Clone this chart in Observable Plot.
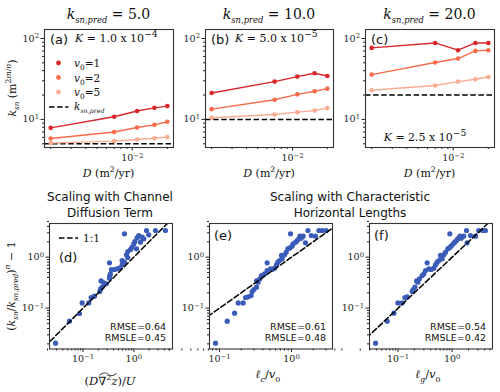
<!DOCTYPE html>
<html><head><meta charset="utf-8">
<script src="https://cdn.jsdelivr.net/npm/d3@7"></script>
<script src="https://cdn.jsdelivr.net/npm/@observablehq/plot@0.6"></script>
<style>
body{margin:0;background:#fff;}
#fig{position:relative;width:500px;height:392px;overflow:hidden;background:#fff;font-family:"DejaVu Serif",serif;color:#111;}
.abs{position:absolute;white-space:nowrap;line-height:1;}
.sans{font-family:"DejaVu Sans",sans-serif;}
.serif{font-family:"DejaVu Serif",serif;}
sub,sup{line-height:0;}
</style></head><body><div id="fig"></div>
<script>
// ---------------- data ----------------
const D = [0.002, 0.007, 0.011, 0.0155, 0.02];
const v0Values = [1, 2, 5];
const kPred = [5.0, 10.0, 20.0];
const kLabels = ["1.0 x 10<sup>−4</sup>", "5.0 x 10<sup>−5</sup>", "2.5 x 10<sup>−5</sup>"];
const panelLetters = ["(a)", "(b)", "(c)", "(d)", "(e)", "(f)"];

const ksnA_v1 = [7.87, 10.8, 12.7, 13.9, 14.6];
const ksnA_v2 = [5.82, 7.0, 7.96, 8.57, 9.36];
const ksnA_v5 = [5.1, 5.4, 5.65, 5.85, 6.05];
const ksnB_v1 = [21.2, 29.3, 33.8, 37.2, 34.4];
const ksnB_v2 = [13.4, 17.5, 20.4, 22.3, 24.0];
const ksnB_v5 = [10.5, 11.5, 12.3, 12.9, 13.8];
const ksnC_v1 = [76.4, 88, 71.6, 88, 88];
const ksnC_v2 = [35.8, 50.4, 56.5, 70.2, 71.6];
const ksnC_v5 = [22.9, 26.2, 29.3, 31.3, 33.4];

const dX = [0.0287,0.0542,0.0851,0.0962,0.130,0.1445,0.168,0.214,0.221,0.238,0.227,0.257,0.285,0.332,0.337,0.347,0.332,0.363,0.416,0.47,0.522,0.589,0.589,0.655,0.717,0.762,0.762,0.86,0.927,1.0,1.046,1.13,1.16,1.25,0.655,1.35,1.46,1.57,1.78,1.97,2.67,4.2];
const dY = [0.0206,0.0556,0.0786,0.127,0.127,0.162,0.172,0.212,0.239,0.258,0.343,0.314,0.3,0.387,0.437,0.471,0.774,0.573,0.573,0.59,0.608,0.707,0.86,0.798,1.11,0.985,1.29,1.41,1.57,1.82,2.03,1.46,2.39,2.66,2.87,1.97,2.47,2.29,3.33,2.74,3.33,3.33];

const eX = [0.088,0.128,0.162,0.182,0.213,0.23,0.25,0.275,0.284,0.3,0.327,0.327,0.344,0.363,0.383,0.422,0.459,0.459,0.511,0.539,0.581,0.619,0.646,0.681,0.726,0.742,0.8,0.843,0.889,0.948,0.969,1.02,1.05,1.14,1.2,1.26,1.31,1.36,1.45,1.56,1.69,1.88,2.15,2.4,2.67,3.03];
const eY = [0.0206,0.0556,0.080,0.127,0.127,0.162,0.167,0.177,0.212,0.232,0.258,0.343,0.324,0.376,0.437,0.471,0.548,0.774,0.59,0.573,0.608,0.707,0.798,0.86,1.08,0.927,1.11,1.25,1.46,1.52,2.87,1.64,1.82,1.97,2.12,2.29,2.58,2.36,2.58,1.91,3.33,2.66,2.58,3.33,3.33,3.33];

const fX = [0.0384,0.063,0.0838,0.0993,0.119,0.134,0.148,0.183,0.19,0.205,0.22,0.232,0.249,0.279,0.3,0.322,0.345,0.371,0.409,0.459,0.492,0.528,0.568,0.609,0.654,0.702,0.753,0.832,0.881,0.906,0.959,1.04,1.12,1.2,1.27,1.39,1.47,1.64,1.84,1.89,2.18,2.7,3.1,3.73,4.12];
const fY = [0.0206,0.0556,0.080,0.127,0.127,0.162,0.167,0.212,0.232,0.258,0.343,0.324,0.376,0.437,0.471,0.548,0.774,0.59,0.573,0.608,0.707,0.798,0.86,1.08,0.927,1.11,1.25,1.46,1.52,2.87,1.64,1.82,1.97,2.12,2.29,2.58,2.36,2.58,3.33,1.91,2.66,2.58,3.33,3.33,3.33];

const rmse = ["0.64", "0.61", "0.54"];
const rmsle = ["0.45", "0.48", "0.42"];

const topMajorX = [0.01];
const topMinorX = [0.002,0.003,0.004,0.005,0.006,0.007,0.008,0.009,0.02];
const topMajorY = [10, 100];
const topMinorY = [5,6,7,8,9,20,30,40,50,60,70,80,90];
const botMajor = [0.1, 1];
const botMinor = [0.02,0.03,0.04,0.05,0.06,0.07,0.08,0.09,0.2,0.3,0.4,0.5,0.6,0.7,0.8,0.9,2,3,4,5];
const oneToOne = [0.001, 100];

const seriesColors = ["#d9262b", "#f56b4c", "#fbab90"];
const dotBlue = "#3a5cb8";

// ---------------- helpers ----------------
const fig = document.getElementById("fig");
const NS = "http://www.w3.org/2000/svg";
const expFmt = d => "10^" + String(Math.round(Math.log10(d))).replace("-", "−");

function supTicks(svg) {
  svg.querySelectorAll("text").forEach(t => {
    const m = /^10\^(.+)$/.exec(t.textContent);
    if (m) {
      t.textContent = "10";
      const ts = document.createElementNS(NS, "tspan");
      ts.setAttribute("dy", "-0.45em");
      ts.setAttribute("font-size", "0.72em");
      ts.textContent = m[1];
      t.appendChild(ts);
    }
  });
}

function mount(svg, frameLeft, frameTop, mL, mT) {
  supTicks(svg);
  svg.style.position = "absolute";
  svg.style.left = (frameLeft - mL) + "px";
  svg.style.top = (frameTop - mT) + "px";
  svg.style.background = "transparent";
  svg.style.overflow = "visible";
  fig.appendChild(svg);
}

function place(html, x, y, opts = {}) {
  const d = document.createElement("div");
  d.className = "abs " + (opts.cls || "serif");
  d.innerHTML = html;
  d.style.left = x + "px";
  d.style.top = y + "px";
  const ax = opts.anchor === "start" ? "0" : opts.anchor === "end" ? "-100%" : "-50%";
  d.style.transform = `translate(${ax},-50%)` + (opts.rotate ? ` rotate(${opts.rotate}deg)` : "");
  d.style.fontSize = (opts.size || 11) + "px";
  if (opts.style) Object.assign(d.style, opts.style);
  fig.appendChild(d);
  return d;
}

function dashSample(x1, x2, y) {
  const lg = document.createElementNS(NS, "svg");
  lg.setAttribute("width", x2 - x1 + 2); lg.setAttribute("height", 6);
  lg.style.position = "absolute"; lg.style.left = (x1 - 1) + "px"; lg.style.top = (y - 3) + "px";
  const l = document.createElementNS(NS, "line");
  l.setAttribute("x1", 1); l.setAttribute("x2", x2 - x1 + 1); l.setAttribute("y1", 3); l.setAttribute("y2", 3);
  l.setAttribute("stroke", "black"); l.setAttribute("stroke-width", 1.5); l.setAttribute("stroke-dasharray", "5.5,2.6");
  lg.appendChild(l); fig.appendChild(lg);
}

const axisStyle = {fontFamily: "'DejaVu Serif', serif", fontSize: "9.5px", color: "#222", background: "transparent"};

// ---------------- top row ----------------
const topSeries = [
  [ksnA_v1, ksnA_v2, ksnA_v5],
  [ksnB_v1, ksnB_v2, ksnB_v5],
  [ksnC_v1, ksnC_v2, ksnC_v5]
];
const topFrames = [[44, 173], [205, 333], [365, 494]];
const topY0 = 29, topY1 = 147;

topSeries.forEach((series, p) => {
  const rows = [];
  series.forEach((vals, s) => vals.forEach((k, i) => rows.push({D: D[i], k, v0: v0Values[s]})));
  const [x0, x1] = topFrames[p];
  const mL = 34, mR = 6, mT = 6, mB = 22;
  const svg = Plot.plot({
    width: mL + (x1 - x0) + mR, height: mT + (topY1 - topY0) + mB,
    marginLeft: mL, marginRight: mR, marginTop: mT, marginBottom: mB,
    style: axisStyle,
    x: {type: "log", domain: [10 ** -2.752, 10 ** -1.646]},
    y: {type: "log", domain: [4.5, 129]},
    color: {type: "ordinal", domain: v0Values, range: seriesColors},
    marks: [
      Plot.ruleY([kPred[p]], {stroke: "black", strokeWidth: 1.5, strokeDasharray: "5.5,2.6"}),
      Plot.line(rows, {x: "D", y: "k", stroke: "v0", strokeWidth: 1.4}),
      Plot.dot(rows, {x: "D", y: "k", fill: "v0", r: 2.3}),
      Plot.axisX({ticks: topMajorX, tickFormat: expFmt, tickSize: 3.5, tickPadding: 3, label: null}),
      Plot.axisX({ticks: topMinorX, tickFormat: () => "", tickSize: 2, label: null}),
      Plot.axisY({ticks: topMajorY, tickFormat: expFmt, tickSize: 3.5, tickPadding: 2, label: null}),
      Plot.axisY({ticks: topMinorY, tickFormat: () => "", tickSize: 2, label: null}),
      Plot.frame({stroke: "#333", strokeWidth: 1.1})
    ]
  });
  mount(svg, x0, topY0, mL, mT);
  const cx = (x0 + x1) / 2;
  place(`<i>k</i><sub style="font-size:0.6em"><i>sn,pred</i></sub> = ${kPred[p].toFixed(1)}`, cx, 14, {size: 14});
  place(`<i>D</i> (m<sup style="font-size:0.7em">2</sup>/yr)`, cx, 173, {size: 11});
  place(panelLetters[p], x0 + 6, 38.5, {anchor: "start", cls: "sans", size: 13});
});

place(`<i>K</i> = ${kLabels[0]}`, 75, 38, {anchor: "start", size: 11});
place(`<i>K</i> = ${kLabels[1]}`, 235, 38, {anchor: "start", size: 11});
place(`<i>K</i> = ${kLabels[2]}`, 425, 136.5, {size: 11});
place(`<i>k</i><sub style="font-size:0.65em"><i>sn</i></sub> (m<sup style="font-size:0.7em">2<i>m</i>/<i>n</i></sup>)`, 12, 88, {rotate: -90, size: 11});

// legend (a)
(function(){
  const ys = [63, 77.5, 92];
  const lg = document.createElementNS(NS, "svg");
  lg.setAttribute("width", 30); lg.setAttribute("height", 45);
  lg.style.position = "absolute"; lg.style.left = "45px"; lg.style.top = "55px";
  ys.forEach((y, i) => {
    const c = document.createElementNS(NS, "circle");
    c.setAttribute("cx", 13.5); c.setAttribute("cy", y - 55); c.setAttribute("r", 2.4);
    c.setAttribute("fill", seriesColors[i]); lg.appendChild(c);
  });
  fig.appendChild(lg);
  dashSample(48.5, 68, 106.5);
  v0Values.forEach((v, i) => place(`<i>v</i><sub style="font-size:0.7em">0</sub>=${v}`, 74, ys[i], {anchor: "start", size: 10.5}));
  place(`<i>k</i><sub style="font-size:0.6em"><i>sn,pred</i></sub>`, 74, 106, {anchor: "start", size: 10.5});
})();

// ---------------- bottom row ----------------
const botData = [[dX, dY], [eX, eY], [fX, fY]];
const botFrames = [[49, 172], [209, 332], [369, 492]];
const botXDomains = [[10 ** -1.66, 10 ** 0.762], [10 ** -1.139, 10 ** 0.569], [10 ** -1.528, 10 ** 0.746]];
const botY0 = 223, botY1 = 348.5;

botData.forEach(([xs, ys], p) => {
  const pts = xs.map((x, i) => ({x, y: ys[i]}));
  const line = oneToOne.map(v => ({x: v, y: v}));
  const [x0, x1] = botFrames[p];
  const mL = 34, mR = 6, mT = 6, mB = 22;
  const svg = Plot.plot({
    width: mL + (x1 - x0) + mR, height: mT + (botY1 - botY0) + mB,
    marginLeft: mL, marginRight: mR, marginTop: mT, marginBottom: mB,
    style: axisStyle,
    x: {type: "log", domain: botXDomains[p]},
    y: {type: "log", domain: [10 ** -1.8, 10 ** 0.66]},
    marks: [
      Plot.dot(pts, {x: "x", y: "y", fill: dotBlue, r: 2.6}),
      Plot.line(line, {x: "x", y: "y", stroke: "black", strokeWidth: 1.5, strokeDasharray: "5.5,2.6", clip: true}),
      Plot.axisX({ticks: botMajor, tickFormat: expFmt, tickSize: 3.5, tickPadding: 3, label: null}),
      Plot.axisX({ticks: botMinor, tickFormat: () => "", tickSize: 2, label: null}),
      Plot.axisY({ticks: botMajor, tickFormat: expFmt, tickSize: 3.5, tickPadding: 2, label: null}),
      Plot.axisY({ticks: botMinor, tickFormat: () => "", tickSize: 2, label: null}),
      Plot.frame({stroke: "#333", strokeWidth: 1.1})
    ]
  });
  mount(svg, x0, botY0, mL, mT);
  place(`RMSE=${rmse[p]}`, x1 - 6, 326.5, {anchor: "end", cls: "sans", size: 9.5});
  place(`RMSLE=${rmsle[p]}`, x1 - 6, 338, {anchor: "end", cls: "sans", size: 9.5});
});

place("(d)", 59, 256.5, {anchor: "start", cls: "sans", size: 13});
place("(e)", 214, 235, {anchor: "start", cls: "sans", size: 13});
place("(f)", 374, 235, {anchor: "start", cls: "sans", size: 13});

// legend (d)
dashSample(59, 78, 237.5);
place("1:1", 83, 237.5, {anchor: "start", size: 10.5});

place("Scaling with Channel", 110, 197, {cls: "sans", size: 12});
place("Diffusion Term", 110, 212.5, {cls: "sans", size: 12});
place("Scaling with Characteristic", 350, 197, {cls: "sans", size: 12});
place("Horizontal Lengths", 350, 212.5, {cls: "sans", size: 12});

place(`(<i>k</i><sub style="font-size:0.65em"><i>sn</i></sub>/<i>k</i><sub style="font-size:0.65em"><i>sn,pred</i></sub>)<sup style="font-size:0.7em"><i>n</i></sup> − 1`, 11, 286, {rotate: -90, size: 11});

// x label (d) with a wide tilde drawn as a small path above ∇²z
(function(){
  const lab = place(`(<i>D</i><span id="tl" style="position:relative;display:inline-block">∇<sup style="font-size:0.7em">2</sup><i>z</i></span>)/<i>U</i>`, 110, 382, {size: 11.5});
  const host = lab.querySelector("#tl");
  const t = document.createElementNS(NS, "svg");
  t.setAttribute("viewBox", "0 0 20 4"); t.setAttribute("preserveAspectRatio", "none");
  t.style.position = "absolute"; t.style.left = "0"; t.style.top = "-4px";
  t.style.width = "100%"; t.style.height = "4px";
  const p = document.createElementNS(NS, "path");
  p.setAttribute("d", "M1,3 C5,0 8,0 10,2 C12,4 15,4 19,1");
  p.setAttribute("fill", "none"); p.setAttribute("stroke", "#111"); p.setAttribute("stroke-width", 0.9);
  p.setAttribute("vector-effect", "non-scaling-stroke");
  t.appendChild(p); host.appendChild(t);
})();
place(`<i>ℓ</i><sub style="font-size:0.7em"><i>c</i></sub>/<i>v</i><sub style="font-size:0.7em">0</sub>`, 268, 375, {size: 11.5});
place(`<i>ℓ</i><sub style="font-size:0.7em"><i>g</i></sub>/<i>v</i><sub style="font-size:0.7em">0</sub>`, 428, 375, {size: 11.5});
</script></body></html>
